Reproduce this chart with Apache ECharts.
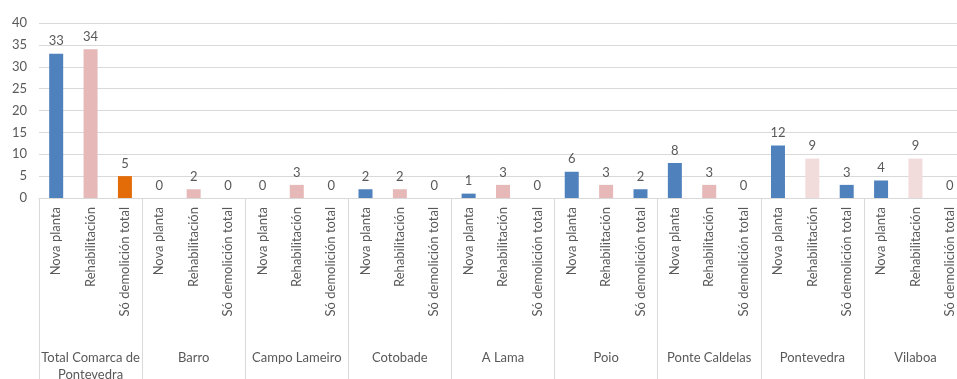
<!DOCTYPE html>
<html>
<head>
<meta charset="utf-8">
<script src="https://cdn.jsdelivr.net/npm/echarts@6/dist/echarts.min.js"></script>
<style>
html,body{margin:0;padding:0;background:#fff;}
#c{width:957px;height:379px;}
</style>
</head>
<body>
<div id="c"></div>
<script>
const groups = ['Total Comarca de\nPontevedra','Barro','Campo Lameiro','Cotobade','A Lama','Poio','Ponte Caldelas','Pontevedra','Vilaboa'];
const subTypes = ['Nova planta','Rehabilitación','Só demolición total'];
const novaPlanta = [33, 0, 0, 2, 1, 6, 8, 12, 4];
const rehabilitacion = [34, 2, 3, 2, 3, 3, 3, 9, 9];
const soDemolicion = [5, 0, 0, 0, 0, 2, 0, 3, 0];
const yTicks = [0, 5, 10, 15, 20, 25, 30, 35, 40];

const categories = [];
const values = [];
groups.forEach((g, i) => {
  categories.push(subTypes[0], subTypes[1], subTypes[2]);
  values.push(novaPlanta[i], rehabilitacion[i], soDemolicion[i]);
});

const BLUE = '#4F81BD', PINK = '#E6B9B8', LIGHTPINK = '#F2DCDB', ORANGE = '#E36C09';
function barColor(idx) {
  const g = Math.floor(idx / 3), s = idx % 3;
  if (s === 0) return BLUE;
  if (s === 1) return (g >= 7) ? LIGHTPINK : PINK;
  return g === 0 ? ORANGE : BLUE;
}

const font = 'Lato, "Liberation Sans", sans-serif';
const txt = '#595959';
const line = '#D9D9D9';

const chart = echarts.init(document.getElementById('c'), null, {renderer: 'canvas'});
chart.setOption({
  animation: false,
  textStyle: {fontFamily: font},
  grid: {left: 39, right: -10, top: 23, bottom: 181, containLabel: false, outerBoundsMode: 'none'},
  xAxis: [
    {
      type: 'category',
      data: categories,
      position: 'bottom',
      axisLine: {show: true, lineStyle: {color: line, width: 1}},
      axisTick: {show: false},
      axisLabel: {interval: 0, rotate: 90, margin: 9, fontSize: 13, color: txt, fontFamily: font}
    },
    {
      type: 'category',
      data: groups,
      position: 'bottom',
      axisLine: {show: false},
      axisTick: {show: true, length: 181, lineStyle: {color: line, width: 1}},
      axisLabel: {interval: 0, margin: 151, fontSize: 13, lineHeight: 17, color: txt, fontFamily: font, verticalAlign: 'top'}
    }
  ],
  yAxis: {
    type: 'value',
    min: 0, max: 40, interval: 5,
    axisLine: {show: false},
    axisTick: {show: false},
    splitLine: {lineStyle: {color: line, width: 1}},
    axisLabel: {margin: 12, fontSize: 13, color: txt, fontFamily: font,
      formatter: v => yTicks.includes(v) ? String(v) : ''}
  },
  series: [{
    type: 'bar',
    xAxisIndex: 0,
    data: values,
    barWidth: 14,
    itemStyle: {color: p => barColor(p.dataIndex)},
    label: {show: true, position: 'top', distance: 6, fontSize: 13, color: txt, fontFamily: font}
  }]
});
</script>
</body>
</html>
